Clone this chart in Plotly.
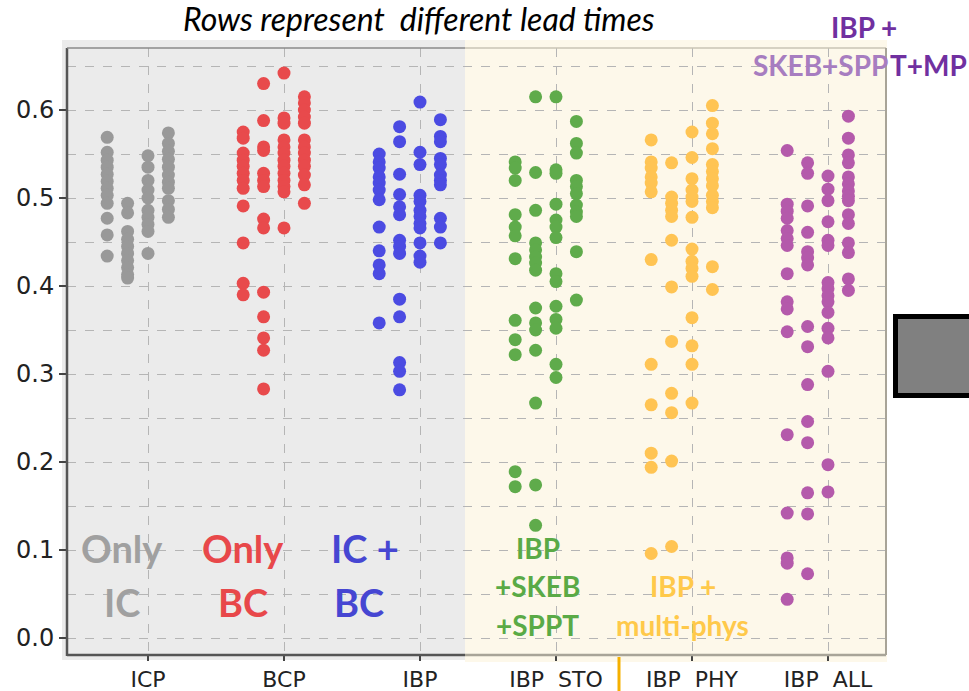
import plotly.graph_objects as go

# ---------------- data ----------------
categories = ["ICP", "BCP", "IBP", "IBP\u00a0\u00a0STO", "IBP\u00a0\u00a0PHY", "IBP\u00a0\u00a0ALL"]
lead_offsets = [-0.30, -0.15, 0.0, 0.15]

icp_values = [
    [0.569, 0.552, 0.543, 0.535, 0.527, 0.519, 0.511, 0.503, 0.494, 0.477, 0.458, 0.434],
    [0.494, 0.483, 0.462, 0.453, 0.445, 0.437, 0.429, 0.421, 0.413, 0.409],
    [0.548, 0.535, 0.520, 0.509, 0.500, 0.486, 0.478, 0.470, 0.462, 0.437],
    [0.574, 0.562, 0.553, 0.544, 0.535, 0.526, 0.518, 0.511, 0.497, 0.487, 0.478],
]
bcp_values = [
    [0.575, 0.568, 0.551, 0.543, 0.536, 0.528, 0.520, 0.511, 0.491, 0.449, 0.403, 0.390],
    [0.630, 0.588, 0.558, 0.554, 0.528, 0.520, 0.513, 0.476, 0.466, 0.393, 0.365, 0.341, 0.327, 0.283],
    [0.642, 0.591, 0.585, 0.566, 0.558, 0.551, 0.543, 0.536, 0.528, 0.520, 0.513, 0.507, 0.466],
    [0.615, 0.608, 0.600, 0.592, 0.585, 0.566, 0.558, 0.551, 0.543, 0.536, 0.526, 0.515, 0.494],
]
ibp_values = [
    [0.550, 0.541, 0.534, 0.524, 0.517, 0.509, 0.498, 0.467, 0.440, 0.424, 0.414, 0.358],
    [0.581, 0.564, 0.527, 0.504, 0.490, 0.481, 0.452, 0.445, 0.437, 0.385, 0.365, 0.313, 0.303, 0.282],
    [0.609, 0.552, 0.538, 0.503, 0.496, 0.486, 0.479, 0.471, 0.466, 0.449, 0.434, 0.427],
    [0.589, 0.570, 0.564, 0.545, 0.538, 0.526, 0.520, 0.515, 0.477, 0.467, 0.449],
]
sto_values = [
    [0.541, 0.534, 0.520, 0.481, 0.467, 0.457, 0.431, 0.361, 0.339, 0.322, 0.189, 0.172],
    [0.615, 0.529, 0.486, 0.449, 0.441, 0.433, 0.426, 0.418, 0.375, 0.358, 0.350, 0.327, 0.267, 0.174, 0.128],
    [0.615, 0.532, 0.528, 0.493, 0.475, 0.467, 0.455, 0.414, 0.405, 0.377, 0.362, 0.352, 0.311, 0.296],
    [0.587, 0.562, 0.551, 0.520, 0.513, 0.505, 0.492, 0.484, 0.479, 0.439, 0.384],
]
phy_values = [
    [0.566, 0.541, 0.534, 0.524, 0.517, 0.507, 0.430, 0.311, 0.265, 0.210, 0.194, 0.096],
    [0.540, 0.501, 0.494, 0.486, 0.479, 0.452, 0.399, 0.337, 0.278, 0.256, 0.201, 0.104],
    [0.575, 0.546, 0.522, 0.509, 0.501, 0.496, 0.478, 0.442, 0.428, 0.420, 0.411, 0.364, 0.332, 0.311, 0.267],
    [0.605, 0.585, 0.573, 0.556, 0.538, 0.530, 0.522, 0.514, 0.503, 0.496, 0.489, 0.422, 0.396],
]
all_values = [
    [0.554, 0.493, 0.485, 0.477, 0.463, 0.454, 0.446, 0.414, 0.382, 0.374, 0.348, 0.231, 0.142, 0.091, 0.085, 0.044],
    [0.540, 0.528, 0.491, 0.461, 0.439, 0.432, 0.424, 0.354, 0.331, 0.288, 0.246, 0.222, 0.165, 0.141, 0.073],
    [0.525, 0.510, 0.497, 0.473, 0.452, 0.446, 0.404, 0.397, 0.389, 0.382, 0.370, 0.352, 0.341, 0.303, 0.197, 0.166],
    [0.593, 0.568, 0.549, 0.540, 0.524, 0.516, 0.508, 0.502, 0.497, 0.481, 0.471, 0.449, 0.438, 0.408, 0.395],
]
y_ticks = [0.0, 0.1, 0.2, 0.3, 0.4, 0.5, 0.6]

series = [icp_values, bcp_values, ibp_values, sto_values, phy_values, all_values]
dot_colors = ["#999999", "#e84a4c", "#4b4be2", "#5fab4b", "#ffc453", "#b45aab"]

# ---------------- layout helpers ----------------
W, H = 969, 691
L, R, T, B = 67, 886, 48, 655


def px(xp):
    return (xp - L) / (R - L)


def py(yp):
    return (B - yp) / (B - T)


fig = go.Figure()

for ci, (cat_vals, col) in enumerate(zip(series, dot_colors)):
    for li, vals in enumerate(cat_vals):
        fig.add_trace(go.Scatter(
            x=[ci + lead_offsets[li]] * len(vals), y=vals, mode="markers",
            marker=dict(size=13, color=col, line=dict(width=0)),
            showlegend=False, hoverinfo="y"))

shapes = [
    # grey and yellow panels
    dict(type="rect", xref="paper", yref="paper", x0=px(62), x1=px(465), y0=py(660), y1=py(40),
         fillcolor="#ebebeb", line=dict(width=0), layer="below"),
    dict(type="rect", xref="paper", yref="paper", x0=px(465), x1=px(887), y0=py(662), y1=py(40),
         fillcolor="#fdf8ea", line=dict(width=0), layer="below"),
    # spines
    dict(type="line", xref="paper", yref="paper", x0=px(L), x1=px(L), y0=py(B + 1), y1=py(T),
         line=dict(color="#555555", width=2.5), layer="above"),
    dict(type="line", xref="paper", yref="paper", x0=px(L), x1=px(465), y0=py(B), y1=py(B),
         line=dict(color="#555555", width=2.5), layer="above"),
    dict(type="line", xref="paper", yref="paper", x0=px(465), x1=px(R), y0=py(B), y1=py(B),
         line=dict(color="#a8a498", width=2.5), layer="above"),
    dict(type="line", xref="paper", yref="paper", x0=px(L), x1=px(465), y0=py(T), y1=py(T),
         line=dict(color="#8a8a8a", width=1.5), layer="above"),
    dict(type="line", xref="paper", yref="paper", x0=px(465), x1=px(R), y0=py(T), y1=py(T),
         line=dict(color="#c9c4b5", width=1.5), layer="above"),
    dict(type="line", xref="paper", yref="paper", x0=px(R), x1=px(R), y0=py(B), y1=py(T),
         line=dict(color="#a8a498", width=2), layer="above"),
    # grey box on the right
    dict(type="rect", xref="paper", yref="paper", x0=px(895.5), x1=px(975), y0=py(395.5), y1=py(316.5),
         fillcolor="#808080", line=dict(color="#000000", width=5), layer="above"),
    # orange tick line at the bottom
    dict(type="line", xref="paper", yref="paper", x0=px(619), x1=px(619), y0=py(657), y1=py(691),
         line=dict(color="#f5b000", width=3), layer="above"),
]

bold = "Lato"
annotations = []


def label(text, xp, yp, color, size, xanchor="center", family=bold, italic=False):
    annotations.append(dict(
        text=(f"<i>{text}</i>" if italic else f"<b>{text}</b>"), xref="paper", yref="paper",
        x=px(xp), y=py(yp), xanchor=xanchor, yanchor="middle", showarrow=False,
        font=dict(family=family, size=size, color=color)))


label("Rows represent  different lead times", 419, 19, "#000000", 32, italic=True)
label("Only", 122, 548, "#a0a0a0", 38)
label("IC", 122, 602, "#a0a0a0", 38)
label("Only", 243, 548, "#e8484a", 38)
label("BC", 243, 602, "#e8484a", 38)
label("IC +", 365, 548, "#4646d2", 38)
label("BC", 359, 602, "#4646d2", 38)
label("IBP", 538, 548, "#5aaa46", 28)
label("+SKEB", 537, 586, "#5aaa46", 28)
label("+SPPT", 537, 625, "#5aaa46", 28)
label("IBP +", 683, 586, "#ffc94a", 28)
label("multi-phys", 682, 625, "#ffc94a", 28)
label("IBP +", 864, 27, "#7030a0", 28)
label("SKEB+SPP", 890, 65, "#a77dc0", 28, xanchor="right")
label("T+MP", 888, 65, "#7030a0", 28, xanchor="left")

x0 = (L - 148) / 136
x1 = (R - 148) / 136
y0 = (638 - B) / 880
y1 = (638 - T) / 880

x_tick_font = dict(family="DejaVu Sans", size=22, color="#222222")
y_tick_font = dict(family="DejaVu Sans", size=24, color="#222222")

fig.update_layout(
    width=W, height=H,
    margin=dict(l=L, r=W - R, t=T, b=H - B, pad=0, autoexpand=False),
    paper_bgcolor="#ffffff", plot_bgcolor="rgba(0,0,0,0)",
    shapes=shapes, annotations=annotations, showlegend=False,
    xaxis=dict(range=[x0, x1], tickmode="array", tickvals=list(range(len(categories))),
               ticktext=categories, showgrid=True, gridcolor="#b5b5b5", griddash="dash", gridwidth=1,
               zeroline=False, showline=False, ticks="outside", ticklen=5, tickcolor="#444444",
               tickwidth=1.5, tickfont=x_tick_font, automargin=False),
    yaxis=dict(range=[y0, y1], tickmode="array", tickvals=y_ticks, tickformat=".1f",
               showgrid=True, gridcolor="#b5b5b5", griddash="dash", gridwidth=1,
               minor=dict(dtick=0.05, tick0=0, showgrid=True, gridcolor="#b5b5b5", griddash="dash"),
               zeroline=False, showline=False, ticks="outside", ticklen=7, tickcolor="#444444",
               tickwidth=1.5, tickfont=y_tick_font, automargin=False),
)

fig.write_html("out.html", config={"displayModeBar": False},
               post_script="document.body.style.margin='0';")
